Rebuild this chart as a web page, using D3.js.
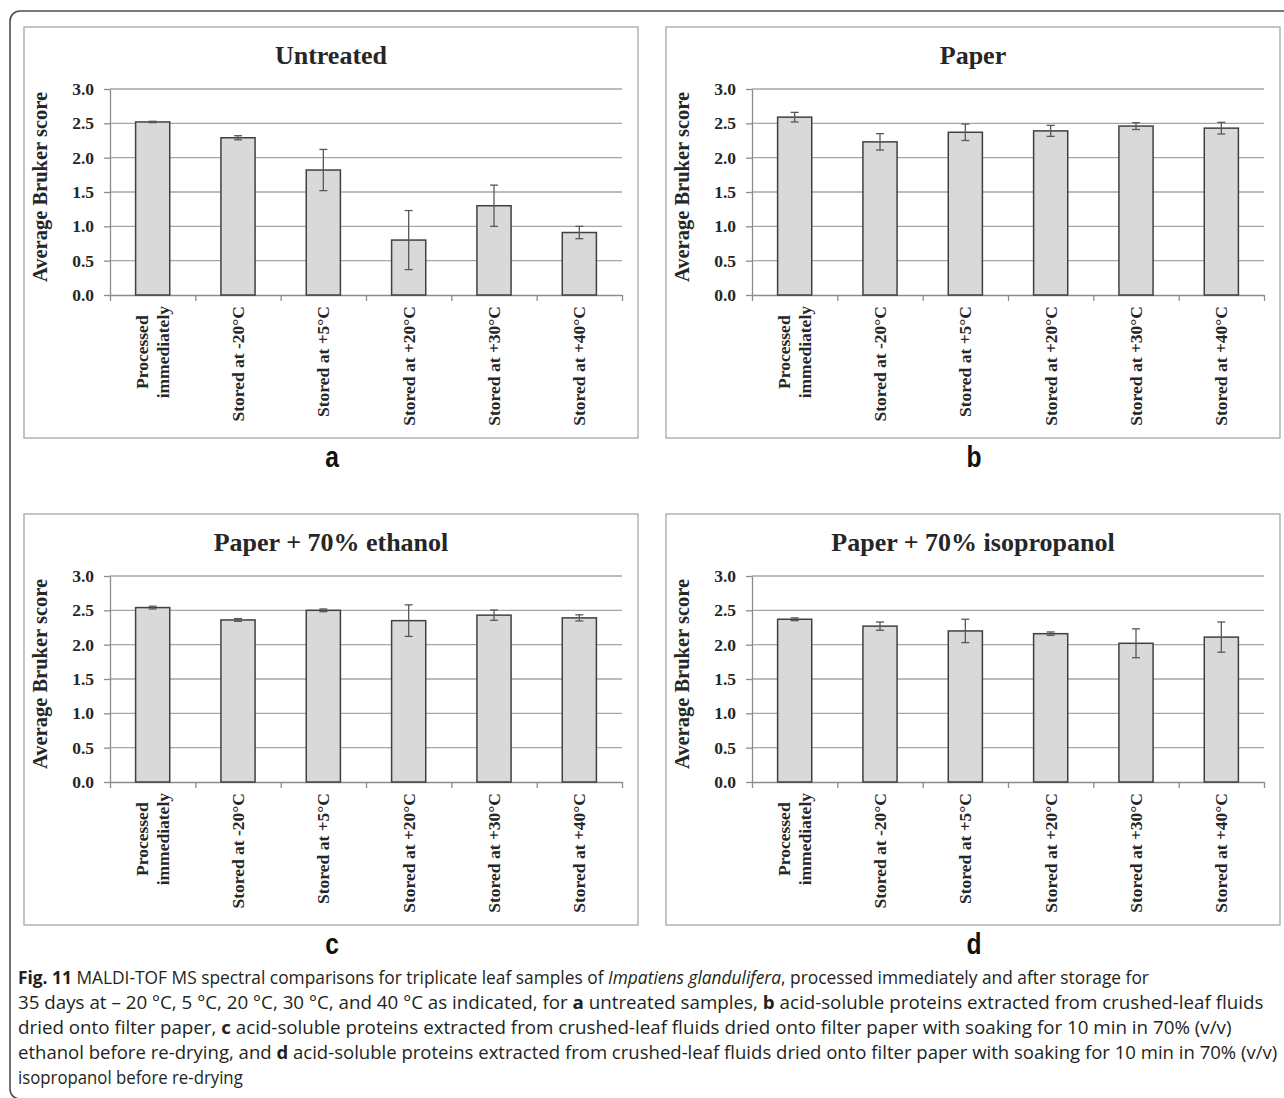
<!DOCTYPE html>
<html>
<head>
  <meta charset="utf-8">
  <title>MALDI-TOF MS spectral comparisons</title>
  <script src="https://d3js.org/d3.v7.min.js"></script>
  <style>
    body { margin: 0; background: #fff; }
    svg { display: block; }
    .panel-box { fill: #fff; stroke: #a6a6a6; stroke-width: 1.3; }
    .grid line { stroke: #a6a6a6; stroke-width: 1.4; }
    .axis path, .axis line { stroke: #8c8c8c; stroke-width: 1.3; }
    .axis text { font-family: "Liberation Serif", "Times New Roman", serif; font-weight: bold; font-size: 17.5px; fill: #262626; }
    .bar { fill: #d9d9d9; stroke: #404040; stroke-width: 1.5; }
    .err { stroke: #595959; stroke-width: 1.3; fill: none; }
    .cat-label { font-family: "Liberation Serif", "Times New Roman", serif; font-weight: bold; font-size: 17.5px; fill: #262626; }
    .y-title { font-family: "Liberation Serif", "Times New Roman", serif; font-weight: bold; font-size: 20.5px; fill: #262626; }
    .title { font-family: "Liberation Serif", "Times New Roman", serif; font-weight: bold; font-size: 26px; fill: #262626; }
    .letter { font-family: "Liberation Sans", Arial, sans-serif; font-weight: bold; font-size: 30px; fill: #111; }
    .caption { font-family: "Open Sans", sans-serif; font-size: 18.5px; fill: #231f20; }
  </style>
</head>
<body>
  <script>
    // categories on the x axis (split into label lines)
    var categories = [
      ["Processed", "immediately"],
      ["Stored at -20°C"],
      ["Stored at +5°C"],
      ["Stored at +20°C"],
      ["Stored at +30°C"],
      ["Stored at +40°C"]
    ];
    var yTicks = [0, 0.5, 1.0, 1.5, 2.0, 2.5, 3.0];
    var panelTitles = ["Untreated", "Paper", "Paper + 70% ethanol", "Paper + 70% isopropanol"];
    var panelLetters = ["a", "b", "c", "d"];
    var yTitle = "Average Bruker score";

    // mean scores and error (+/-) per category
    var untreatedMeans = [2.52, 2.29, 1.82, 0.80, 1.30, 0.91];
    var untreatedErrors = [0.01, 0.03, 0.30, 0.43, 0.30, 0.09];
    var paperMeans = [2.59, 2.23, 2.37, 2.39, 2.46, 2.43];
    var paperErrors = [0.07, 0.12, 0.12, 0.08, 0.05, 0.085];
    var ethanolMeans = [2.54, 2.36, 2.50, 2.35, 2.43, 2.39];
    var ethanolErrors = [0.02, 0.02, 0.02, 0.23, 0.075, 0.045];
    var isopropanolMeans = [2.37, 2.27, 2.20, 2.16, 2.02, 2.11];
    var isopropanolErrors = [0.02, 0.06, 0.17, 0.025, 0.21, 0.22];

    var captionLines = [
      [["b", "Fig. 11"], ["", "  MALDI-TOF MS spectral comparisons for triplicate leaf samples of "], ["i", "Impatiens glandulifera"], ["", ", processed immediately and after storage for"]],
      [["", "35 days at – 20 °C, 5 °C, 20 °C, 30 °C, and 40 °C as indicated, for "], ["b", "a"], ["", " untreated samples, "], ["b", "b"], ["", " acid-soluble proteins extracted from crushed-leaf fluids"]],
      [["", "dried onto filter paper, "], ["b", "c"], ["", " acid-soluble proteins extracted from crushed-leaf fluids dried onto filter paper with soaking for 10 min in 70% (v/v)"]],
      [["", "ethanol before re-drying, and "], ["b", "d"], ["", " acid-soluble proteins extracted from crushed-leaf fluids dried onto filter paper with soaking for 10 min in 70% (v/v)"]],
      [["", "isopropanol before re-drying"]]
    ];
    var captionWidths = [1132, 1246, 1214, 1260, 225];

    var W = 1284, H = 1098;
    var boxW = 614, boxH = 411;
    var plot = {left: 86, right: 598, top: 62, bottom: 268};

    var svg = d3.select("body").append("svg")
        .attr("width", W)
        .attr("height", H);

    // outer rounded frame (runs off the right and bottom edge)
    svg.append("rect")
        .attr("x", 10).attr("y", 11)
        .attr("width", 1400).attr("height", 1088)
        .attr("rx", 10)
        .attr("fill", "none")
        .attr("stroke", "#4d4d4d")
        .attr("stroke-width", 1.6);

    var y = d3.scaleLinear().domain([0, 3]).range([plot.bottom, plot.top]);
    var x = d3.scaleBand().domain(d3.range(categories.length)).range([plot.left, plot.right]).padding(0);
    var xEdge = d3.scaleLinear().domain([0, categories.length]).range([plot.left, plot.right]);

    function drawPanel(px, py, title, letter, means, errors) {
      var g = svg.append("g").attr("transform", "translate(" + px + "," + py + ")");

      g.append("rect").attr("class", "panel-box")
          .attr("x", 0).attr("y", 0).attr("width", boxW).attr("height", boxH);

      g.append("text").attr("class", "title")
          .attr("x", boxW / 2).attr("y", 37)
          .attr("text-anchor", "middle")
          .text(title);

      // gridlines
      g.append("g").attr("class", "grid")
        .selectAll("line")
        .data(yTicks.filter(d => d > 0))
        .join("line")
          .attr("x1", plot.left).attr("x2", plot.right)
          .attr("y1", d => y(d)).attr("y2", d => y(d));

      // y axis
      g.append("g").attr("class", "axis")
          .attr("transform", "translate(" + plot.left + ",0)")
          .call(d3.axisLeft(y).tickValues(yTicks).tickFormat(d3.format(".1f")).tickSize(6).tickSizeOuter(0).tickPadding(10));

      // x axis with ticks between categories
      g.append("g").attr("class", "axis")
          .attr("transform", "translate(0," + plot.bottom + ")")
          .call(d3.axisBottom(xEdge).ticks(categories.length).tickFormat("").tickSize(6).tickSizeOuter(0));

      var barW = x.bandwidth() / 2.5;

      g.selectAll(".bar")
        .data(means)
        .join("rect")
          .attr("class", "bar")
          .attr("x", (d, i) => x(i) + x.bandwidth() / 2 - barW / 2)
          .attr("y", d => y(d))
          .attr("width", barW)
          .attr("height", d => y(0) - y(d));

      // error bars
      var eb = g.selectAll(".errbar")
        .data(means)
        .join("g")
          .attr("class", "errbar")
          .attr("transform", (d, i) => "translate(" + (x(i) + x.bandwidth() / 2) + ",0)");
      eb.append("line").attr("class", "err")
          .attr("y1", (d, i) => y(d - errors[i]))
          .attr("y2", (d, i) => y(d + errors[i]));
      eb.append("line").attr("class", "err")
          .attr("x1", -4).attr("x2", 4)
          .attr("y1", (d, i) => y(d - errors[i]))
          .attr("y2", (d, i) => y(d - errors[i]));
      eb.append("line").attr("class", "err")
          .attr("x1", -4).attr("x2", 4)
          .attr("y1", (d, i) => y(d + errors[i]))
          .attr("y2", (d, i) => y(d + errors[i]));

      // rotated category labels
      categories.forEach(function(lines, i) {
        var lab = g.append("g")
            .attr("transform", "translate(" + (x(i) + x.bandwidth() / 2) + "," + (plot.bottom + 11) + ") rotate(-90)");
        var texts = lines.map(function(line, k) {
          return lab.append("text").attr("class", "cat-label")
              .attr("text-anchor", "middle")
              .attr("y", ((k - (lines.length - 1) / 2) * 1.2 + 0.35) + "em")
              .text(line);
        });
        var maxLen = d3.max(texts, t => t.node().getComputedTextLength());
        texts.forEach(t => t.attr("x", -maxLen / 2));
      });

      g.append("text").attr("class", "y-title")
          .attr("transform", "translate(16," + 160 + ") rotate(-90)")
          .attr("text-anchor", "middle")
          .attr("dominant-baseline", "central")
          .text(yTitle);

      svg.append("text").attr("class", "letter")
          .attr("transform", "translate(" + (px + boxW / 2 + 1) + "," + (py + boxH + 29) + ") scale(0.82,1)")
          .attr("text-anchor", "middle")
          .text(letter);
    }

    drawPanel(24, 27, panelTitles[0], panelLetters[0], untreatedMeans, untreatedErrors);
    drawPanel(666, 27, panelTitles[1], panelLetters[1], paperMeans, paperErrors);
    drawPanel(24, 514, panelTitles[2], panelLetters[2], ethanolMeans, ethanolErrors);
    drawPanel(666, 514, panelTitles[3], panelLetters[3], isopropanolMeans, isopropanolErrors);

    // caption, each line stretched to the width it has in the figure
    captionLines.forEach(function(parts, i) {
      var t = svg.append("text").attr("class", "caption");
      parts.forEach(function(p) {
        var s = t.append("tspan").text(p[1]);
        if (p[0] === "b") s.attr("font-weight", "bold");
        if (p[0] === "i") s.attr("font-style", "italic");
      });
      var len = t.node().getComputedTextLength();
      t.attr("transform", "translate(18," + (984 + i * 25) + ") scale(" + (captionWidths[i] / len) + ",1)");
    });
  </script>
</body>
</html>
